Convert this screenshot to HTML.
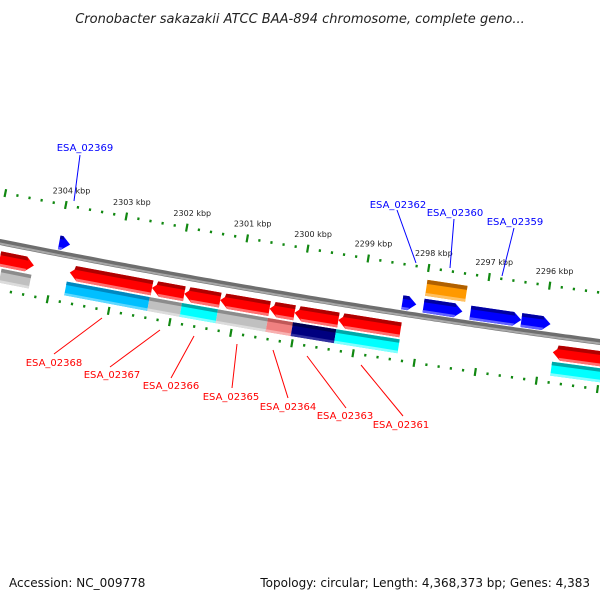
<!DOCTYPE html>
<html><head><meta charset="utf-8"><style>
body{margin:0;background:#fff}
svg{display:block}
text{font-family:"DejaVu Sans","Liberation Sans",sans-serif}
</style></head><body>
<svg id="map" width="600" height="600" viewBox="0 0 600 600" xmlns="http://www.w3.org/2000/svg">
<text x="300" y="23" text-anchor="middle" font-size="13" font-style="italic" fill="#222">Cronobacter sakazakii ATCC BAA-894 chromosome, complete geno...</text>
<text x="9" y="587" font-size="12" fill="#111">Accession: NC_009778</text>
<text x="590" y="587" text-anchor="end" font-size="12" fill="#111">Topology: circular; Length: 4,368,373 bp; Genes: 4,383</text>
<g id="layer"></g>
</svg>
<script>
// data (kbp)
const majorTicks = [2305, 2304, 2303, 2302, 2301, 2300, 2299, 2298, 2297, 2296, 2295];
const tickLabels = ["", "2304 kbp", "2303 kbp", "2302 kbp", "2301 kbp", "2300 kbp", "2299 kbp", "2298 kbp", "2297 kbp", "2296 kbp", ""];
const redStarts = [2304.88, 2303.73, 2302.38, 2301.85, 2301.26, 2300.45, 2300.04, 2299.32, 2295.80];
const redEnds   = [2304.32, 2302.38, 2301.85, 2301.26, 2300.45, 2300.04, 2299.32, 2298.30, 2295.00];
const redDirs   = [1, -1, -1, -1, -1, -1, -1, -1, -1];
const lowStarts = [2304.82, 2303.75, 2302.39, 2301.86, 2301.27, 2300.45, 2300.04, 2299.33, 2295.79];
const lowEnds   = [2304.33, 2302.39, 2301.86, 2301.27, 2300.45, 2300.04, 2299.33, 2298.29, 2294.95];
const lowColors = ["gray", "sky", "gray", "cyan", "gray", "salmon", "navy", "cyan", "cyan"];
const blueStarts = [2303.99, 2298.34, 2297.99, 2297.22, 2296.38];
const blueEnds   = [2303.81, 2298.11, 2297.35, 2296.38, 2295.90];
const orangeStarts = [2297.99];
const orangeEnds   = [2297.33];
const blueLabels = ["ESA_02369", "ESA_02362", "ESA_02360", "ESA_02359"];
const blueLabelPos = [[85,151,80,155,74,201],[398,208,397,210,416,263],[455,216,454,219,450,268],[515,225,514,228,502,276]];
const redLabels = ["ESA_02368", "ESA_02367", "ESA_02366", "ESA_02365", "ESA_02364", "ESA_02363", "ESA_02361"];
const redLabelPos = [[54,366,54,354,102,318],[112,378,110,367,160,330],[171,389,171,378,194,336],[231,400,232,388,237,344],[288,410,288,398,273,350],[345,419,346,408,307,356],[401,428,403,416,361,365]];

const NS = "http://www.w3.org/2000/svg";
const layer = document.getElementById("layer");
function bx(k){ return 56.5 + (2304 - k) * 60.8; }
function by(x){ return 242 + 0.2*x - 0.0000556*x*x; }
function pt(k, d){
  const x = bx(k); const sl = 0.2 - 0.000111*x; const th = Math.atan(sl);
  return [x - d*Math.sin(th), by(x) + d*Math.cos(th)];
}
function mk(tag, attrs){ const e = document.createElementNS(NS, tag); for (const a in attrs) e.setAttribute(a, attrs[a]); layer.appendChild(e); return e; }
function P(a){ return a[0].toFixed(1)+","+a[1].toFixed(1); }

// backbone
let dpath = "";
for (let x = -10; x <= 610; x += 5) dpath += (x === -10 ? "M" : "L") + x + "," + by(x).toFixed(1);
const bb1 = mk("path", {d: dpath, stroke: "#6e6e6e", "stroke-width": 6, fill: "none"});


const bb2 = mk("path", {d: dpath, stroke: "#a8a8a8", "stroke-width": 2, fill: "none", transform: "translate(0,1.5)"});



// ticks
function ticks(d, dir, withLabels){
  for (let k = 2306; k >= 2294; k -= 0.2) {
    const kk = Math.round(k*10)/10;
    const major = Math.abs(kk - Math.round(kk)) < 0.01;
    const len = major ? 4 : 1.3;
    const a = pt(kk, d - len), b = pt(kk, d + len);
    const t = mk("line", {x1: a[0], y1: a[1], x2: b[0], y2: b[1], stroke: "#118811", "stroke-width": 2.2});
    
    
  }
  if (withLabels) {
    majorTicks.forEach((k, i) => {
      if (!tickLabels[i]) return;
      const p = pt(k, d - 14);
      const t = mk("text", {x: p[0] + 3, y: p[1] + 2, "font-size": 8, "text-anchor": "middle", fill: "#222"});
      t.textContent = tickLabels[i];
      
      
    });
  }
}
ticks(-49, -1, true);
ticks(47, 1, false);

const pal = {
  red: ["#ff0000", "#b00000", "#ff7070"],
  blue: ["#0000ff", "#0000a0", "#6060ff"],
  orange: ["#ff9900", "#b06000", "#ffc060"],
  gray: ["#c0c0c0", "#8c8c8c", "#dcdcdc"],
  sky: ["#00bfff", "#0088c0", "#60d8ff"],
  cyan: ["#00ffff", "#00a8a8", "#80ffff"],
  salmon: ["#f08080", "#c05858", "#f8b0b0"],
  navy: ["#000080", "#000050", "#3030a0"]
};
function gene(s, e, d0, d1, col, dir, name){
  // s,e in kbp (s > e means left->right on screen)
  const head = 8/60.8;
  const c = pal[col];
  const dm = (d0 + d1)/2;
  let pts;
  const L = s, R = e; // L on left (larger kbp)
  if (dir === 1) {
    const hk = Math.max(R, R + head) ; 
    pts = [pt(L, d0), pt(R + head, d0), pt(R, dm), pt(R + head, d1), pt(L, d1)];
  } else if (dir === -1) {
    pts = [pt(L - head, d0), pt(R, d0), pt(R, d1), pt(L - head, d1), pt(L, dm)];
  } else {
    pts = [pt(L, d0), pt(R, d0), pt(R, d1), pt(L, d1)];
  }
  const g = mk("polygon", {points: pts.map(P).join(" "), fill: c[0]});
  
  
  const h = (d1 - d0);
  const topB = [pt(dir === -1 ? L - head*0.6 : L, d0), pt(dir === 1 ? R + head : R, d0), pt(dir === 1 ? R + head*0.8 : R, d0 + h*0.25), pt(dir === -1 ? L - head*0.5 : L, d0 + h*0.25)];
  const t = mk("polygon", {points: topB.map(P).join(" "), fill: c[1]});
  
  
  const botB = [pt(dir === -1 ? L - head*0.8 : L, d1 - h*0.18), pt(dir === 1 ? R + head*0.8 : R, d1 - h*0.18), pt(dir === 1 ? R + head : R, d1), pt(dir === -1 ? L - head : L, d1)];
  const b = mk("polygon", {points: botB.map(P).join(" "), fill: c[2]});
  
  
}
lowStarts.forEach((s, i) => gene(s, lowEnds[i], 26, 40, lowColors[i], 0, 'feature-bar'));
redStarts.forEach((s, i) => gene(s, redEnds[i], 9, 24, "red", redDirs[i], 'reverse-gene'));
blueStarts.forEach((s, i) => gene(s, blueEnds[i], -18, -4, "blue", 1, 'forward-gene'));
orangeStarts.forEach((s, i) => gene(s, orangeEnds[i], -37, -21, "orange", 0, 'forward-feature'));

function labels(arr, pos, color, nm){
  arr.forEach((s, i) => {
    const p = pos[i];
    const l = mk("line", {x1: p[2], y1: p[3], x2: p[4], y2: p[5], stroke: color, "stroke-width": 1});
    
    
    const t = mk("text", {x: p[0], y: p[1], "font-size": 10, "text-anchor": "middle", fill: color});
    t.textContent = s;
    
    
  });
}
labels(blueLabels, blueLabelPos, "#0000ff", 'forward-gene-label');
labels(redLabels, redLabelPos, "#ff0000", 'reverse-gene-label');
</script>
</body></html>
